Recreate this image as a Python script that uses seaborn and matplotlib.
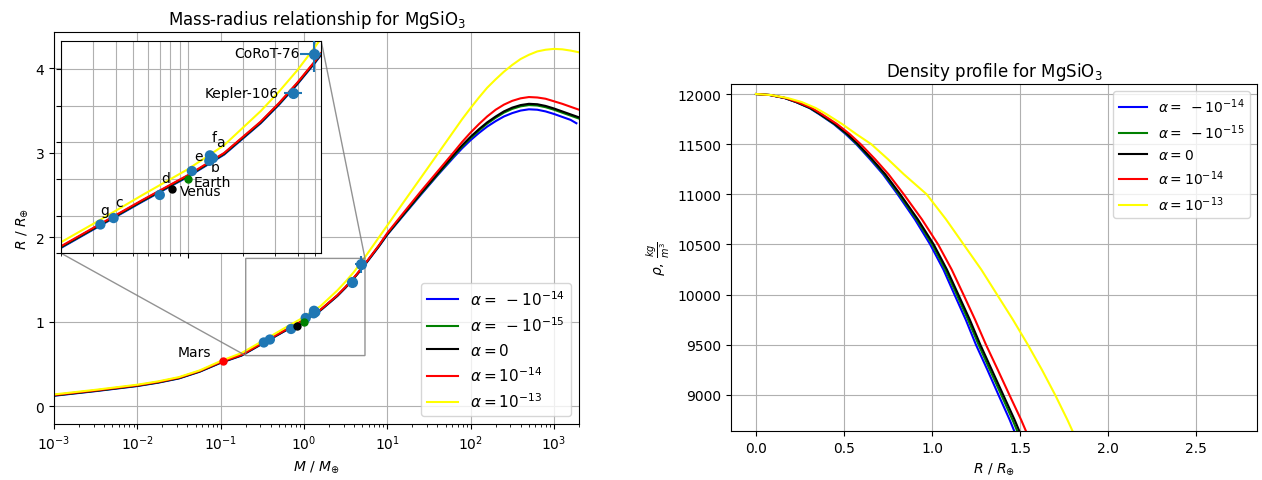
import matplotlib
matplotlib.use("Agg")
import matplotlib.pyplot as plt
from matplotlib.lines import Line2D
from matplotlib.ticker import NullFormatter
import pandas as pd
import seaborn as sns

# ---------------- data ----------------
alpha_labels = [r"$\alpha = \;-10^{-14}$", r"$\alpha = \;-10^{-15}$", r"$\alpha = 0$",
                r"$\alpha = 10^{-14}$", r"$\alpha = 10^{-13}$"]
alpha_colors = ["blue", "green", "black", "red", "yellow"]

# mass-radius curves (M in Earth masses, R in Earth radii)
mass_grid = [0.001, 0.00316, 0.01, 0.0178, 0.0316, 0.0562, 0.1, 0.178, 0.316, 0.562,
             1.0, 1.58, 2.51, 3.16, 3.98, 5.01, 6.31, 7.94, 10, 15.8,
             25.1, 39.8, 63.1, 79.4, 100, 126, 158, 200, 251, 316,
             398, 501, 631, 794, 1000, 1259, 1585, 2000]
mass_blue = [0.001, 0.00316, 0.01, 0.0178, 0.0316, 0.0562, 0.1, 0.178, 0.316, 0.562,
             1.0, 1.58, 2.51, 3.16, 3.98, 5.01, 6.31, 7.94, 10, 15.8,
             25.1, 39.8, 63.1, 79.4, 100, 126, 158, 200, 251, 316,
             398, 501, 631, 794, 1000, 1259, 1585, 1860]
R_blue = [0.124, 0.179, 0.239, 0.279, 0.329, 0.409, 0.514, 0.599, 0.739, 0.879,
          1.014, 1.134, 1.304, 1.404, 1.514, 1.634, 1.762, 1.891, 2.03, 2.265,
          2.50, 2.73, 2.95, 3.055, 3.15, 3.235, 3.31, 3.375, 3.43, 3.47,
          3.50, 3.515, 3.51, 3.49, 3.46, 3.425, 3.39, 3.35]
R_green = [0.127, 0.182, 0.242, 0.282, 0.332, 0.412, 0.517, 0.602, 0.742, 0.882,
           1.017, 1.137, 1.307, 1.407, 1.517, 1.637, 1.767, 1.896, 2.035, 2.272,
           2.51, 2.738, 2.966, 3.075, 3.175, 3.265, 3.345, 3.415, 3.475, 3.52,
           3.55, 3.565, 3.56, 3.54, 3.51, 3.475, 3.44, 3.405]
R_black = [0.13, 0.185, 0.245, 0.285, 0.335, 0.415, 0.52, 0.605, 0.745, 0.885,
           1.02, 1.14, 1.31, 1.41, 1.52, 1.64, 1.77, 1.90, 2.04, 2.28,
           2.52, 2.75, 2.98, 3.09, 3.19, 3.28, 3.36, 3.43, 3.49, 3.535,
           3.565, 3.58, 3.575, 3.555, 3.525, 3.49, 3.455, 3.42]
R_red = [0.133, 0.188, 0.248, 0.288, 0.338, 0.418, 0.523, 0.608, 0.748, 0.888,
         1.023, 1.143, 1.313, 1.413, 1.523, 1.643, 1.774, 1.905, 2.05, 2.295,
         2.54, 2.775, 3.01, 3.13, 3.24, 3.34, 3.43, 3.51, 3.57, 3.615,
         3.645, 3.66, 3.655, 3.64, 3.61, 3.58, 3.545, 3.51]
R_yellow = [0.14, 0.195, 0.255, 0.295, 0.345, 0.425, 0.535, 0.63, 0.77, 0.915,
            1.055, 1.185, 1.37, 1.475, 1.59, 1.72, 1.86, 2.0, 2.14, 2.42,
            2.70, 2.98, 3.26, 3.40, 3.53, 3.655, 3.77, 3.87, 3.96, 4.04,
            4.11, 4.16, 4.20, 4.22, 4.23, 4.225, 4.21, 4.19]

# TRAPPIST-1 planets
trappist_labels = ["g", "c", "d", "e", "f", "a", "b"]
trappist_M = [0.33, 0.39, 0.70, 1.05, 1.37, 1.31, 1.32]
trappist_R = [0.755, 0.79, 0.915, 1.045, 1.115, 1.10, 1.13]
trappist_label_M = [0.33, 0.396, 0.71, 1.08, 1.355, 1.43, 1.34]
trappist_label_R = [0.795, 0.838, 0.969, 1.09, 1.19, 1.162, 1.027]

# exoplanets with error bars
exo_names = ["Kepler-106", "CoRoT-76"]
exo_M = [3.8, 4.9]
exo_R = [1.47, 1.68]
exo_Merr = [0.45, 0.75]
exo_Rerr = [0.02, 0.1]
exo_label_M = [3.16, 4.1]
exo_label_R = [1.429, 1.649]

# solar system planets
solar_M = [1.0, 0.815, 0.107]
solar_R = [1.0, 0.949, 0.532]
solar_colors = ["green", "black", "red"]

# x ticks of the mass axis
mass_ticks = [1e-3, 1e-2, 1e-1, 1, 10, 100, 1000]

# density profile: radius reached at each density level
rho_grid = [12000, 11990, 11960, 11920, 11860, 11800, 11700, 11600, 11500, 11350,
            11200, 11000, 10750, 10500, 10250, 10000, 9750, 9500, 9250, 9000, 8750, 8500]
Rho_blue = [0, 0.079, 0.162, 0.226, 0.304, 0.358, 0.442, 0.51, 0.57, 0.648,
            0.722, 0.805, 0.903, 0.99, 1.065, 1.128, 1.192, 1.25, 1.315, 1.378, 1.442, 1.50]
Rho_green = [0, 0.079, 0.164, 0.228, 0.307, 0.362, 0.446, 0.516, 0.575, 0.655,
             0.729, 0.813, 0.913, 1.002, 1.076, 1.141, 1.205, 1.265, 1.329, 1.394, 1.458, 1.518]
Rho_black = [0, 0.08, 0.165, 0.23, 0.31, 0.365, 0.45, 0.52, 0.58, 0.66,
             0.735, 0.82, 0.92, 1.01, 1.085, 1.15, 1.215, 1.275, 1.34, 1.405, 1.47, 1.53]
Rho_red = [0, 0.082, 0.169, 0.236, 0.318, 0.374, 0.461, 0.533, 0.595, 0.677,
           0.753, 0.84, 0.943, 1.035, 1.112, 1.179, 1.245, 1.307, 1.374, 1.44, 1.507, 1.568]
Rho_yellow = [0, 0.085, 0.18, 0.26, 0.34, 0.40, 0.49, 0.57, 0.655, 0.75,
              0.84, 0.97, 1.08, 1.18, 1.28, 1.37, 1.46, 1.545, 1.625, 1.70, 1.77, 1.835]

# ---------------- build tables ----------------
mr_rows = []
for lab, ms, rs in zip(alpha_labels,
                       [mass_blue, mass_grid, mass_grid, mass_grid, mass_grid],
                       [R_blue, R_green, R_black, R_red, R_yellow]):
    for m, r in zip(ms, rs):
        mr_rows.append({"alpha": lab, "M": m, "R": r})
mr_df = pd.DataFrame(mr_rows)

rho_rows = []
for lab, rs in zip(alpha_labels, [Rho_blue, Rho_green, Rho_black, Rho_red, Rho_yellow]):
    for rho, r in zip(rho_grid, rs):
        rho_rows.append({"alpha": lab, "R": r, "rho": rho})
rho_df = pd.DataFrame(rho_rows)

palette = dict(zip(alpha_labels, alpha_colors))

# ---------------- figure ----------------
fig = plt.figure(figsize=(12.62, 4.81), dpi=100)
ax1 = fig.add_axes([54 / 1262, 1 - 425 / 481, 525 / 1262, 392 / 481])
ax2 = fig.add_axes([731 / 1262, 1 - 432 / 481, 526 / 1262, 347 / 481])


def draw_mass_radius(ax):
    sns.lineplot(data=mr_df, x="M", y="R", hue="alpha", hue_order=alpha_labels,
                 palette=palette, sort=False, estimator=None, legend=False,
                 linewidth=1.5, ax=ax)
    sns.scatterplot(x=trappist_M, y=trappist_R, color="#1f77b4", s=55,
                    edgecolor="none", ax=ax, zorder=5)
    ax.errorbar(exo_M, exo_R, xerr=exo_Merr, yerr=exo_Rerr, fmt="o",
                color="#1f77b4", markersize=7, zorder=5)
    for m, r, c in zip(solar_M, solar_R, solar_colors):
        ax.plot(m, r, "o", color=c, markersize=5, zorder=6)


draw_mass_radius(ax1)
ax1.set_xscale("log")
ax1.set_xticks(mass_ticks)
ax1.set_xlim(1e-3, 2000)
ax1.set_ylim(-0.21, 4.43)
ax1.grid(True)
ax1.set_xlabel(r"$M\ /\ M_{\oplus}$")
ax1.set_ylabel(r"$R\ /\ R_{\oplus}$")
ax1.set_title(r"Mass-radius relationship for MgSiO$_3$", fontsize=12)
ax1.text(0.077, 0.556, "Mars", ha="right", va="bottom", fontsize=10)

handles = [Line2D([], [], color=c, lw=1.5) for c in alpha_colors]
ax1.legend(handles, alpha_labels, loc="lower right", fontsize=11)

# inset
ins = ax1.inset_axes([0.013, 0.436, 0.496, 0.541])
draw_mass_radius(ins)
ins.set_xscale("log")
ins.set_xlim(0.2, 5.4)
ins.set_ylim(0.6, 1.75)
ins.grid(True, which="both")
ins.set_xlabel("")
ins.set_ylabel("")
ins.xaxis.set_major_formatter(NullFormatter())
ins.xaxis.set_minor_formatter(NullFormatter())
ins.yaxis.set_major_formatter(NullFormatter())
for lab, m, r in zip(trappist_labels, trappist_label_M, trappist_label_R):
    ins.text(m, r, lab, ha="left", va="bottom", fontsize=10)
for name, m, r in zip(exo_names, exo_label_M, exo_label_R):
    ins.text(m, r, name, ha="right", va="bottom", fontsize=10)
ins.text(1.08, 0.946, "Earth", ha="left", va="bottom", fontsize=10)
ins.text(0.905, 0.90, "Venus", ha="left", va="bottom", fontsize=10)
ax1.indicate_inset_zoom(ins, edgecolor="gray", alpha=0.85)

# density profile
sns.lineplot(data=rho_df, x="R", y="rho", hue="alpha", hue_order=alpha_labels,
             palette=palette, sort=False, estimator=None, legend=False,
             linewidth=1.5, ax=ax2)
ax2.set_xlim(-0.142, 2.847)
ax2.set_ylim(8640, 12100)
ax2.grid(True)
ax2.set_xlabel(r"$R\ /\ R_{\oplus}$")
ax2.set_ylabel(r"$\rho,\, \frac{kg}{m^3}$")
ax2.set_title(r"Density profile for MgSiO$_3$", fontsize=12)
ax2.legend(handles, alpha_labels, loc="upper right", fontsize=10)

fig.savefig("out.png", dpi=100)
